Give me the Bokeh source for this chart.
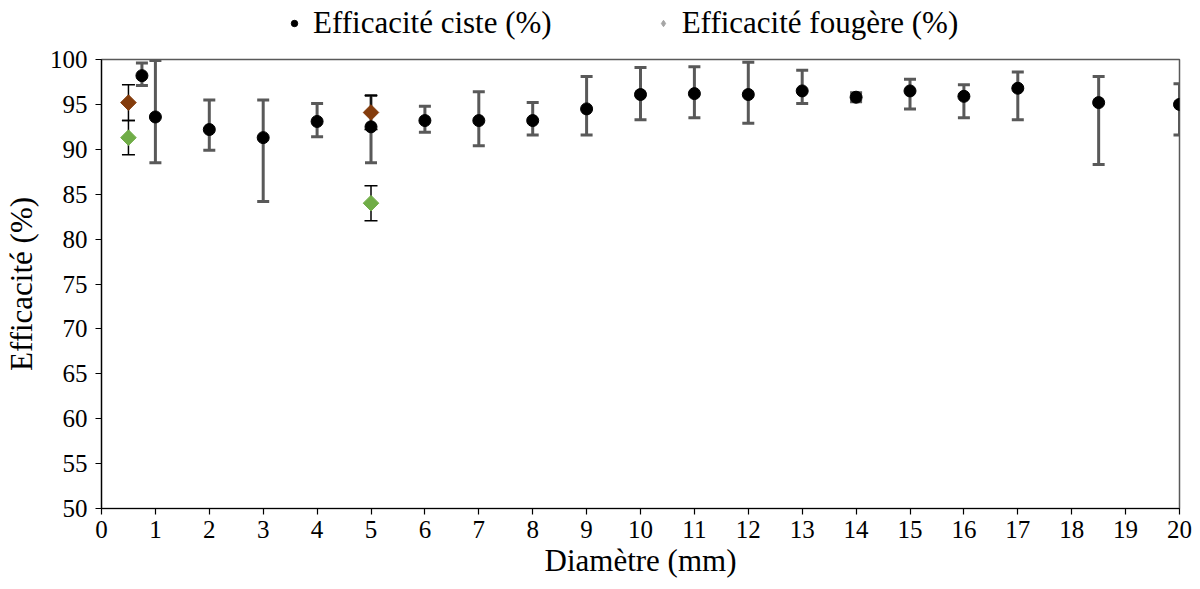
from bokeh.plotting import figure
from bokeh.layouts import column
from bokeh.models import (ColumnDataSource, Whisker, TeeHead, Legend, LegendItem,
                          FixedTicker, Range1d)
from bokeh.embed import file_html
from bokeh.resources import INLINE
import math

# ---- data ----
ciste_x = [0.75, 1, 2, 3, 4, 5, 6, 7, 8, 9, 10, 11, 12, 13, 14, 15, 16, 17, 18.5, 20]
ciste_y = [98.2, 93.6, 92.2, 91.3, 93.1, 92.5, 93.2, 93.2, 93.2, 94.5, 96.1, 96.2, 96.1, 96.5, 95.8, 96.5, 95.9, 96.8, 95.2, 95.0]
ciste_hi = [99.6, 99.9, 95.5, 95.5, 95.1, 96.0, 94.8, 96.4, 95.2, 98.1, 99.1, 99.2, 99.7, 98.8, 96.3, 97.8, 97.2, 98.6, 98.1, 97.3]
ciste_lo = [97.1, 88.5, 89.9, 84.2, 91.4, 88.5, 91.9, 90.4, 91.6, 91.6, 93.3, 93.5, 92.9, 95.1, 95.3, 94.5, 93.5, 93.3, 88.3, 91.6]

fougere_x = [0.5, 0.5, 5, 5]
fougere_y = [95.2, 91.3, 94.1, 84.0]
fougere_err = [2.0, 1.9, 1.9, 1.95]
fougere_colors = ["#843C0C", "#70AD47", "#843C0C", "#70AD47"]

x_ticks = list(range(0, 21))
y_ticks = list(range(50, 101, 5))

FONT = "Liberation Serif"
ROT = math.pi / 4

p = figure(width=1192, height=536, output_backend="svg", toolbar_location=None,
           x_range=Range1d(0, 20), y_range=Range1d(50, 100),
           min_border_left=97, min_border_right=13, min_border_top=14, min_border_bottom=73)
p.grid.visible = False
p.outline_line_color = "#595959"
p.outline_line_width = 1.5
p.background_fill_color = "white"
p.border_fill_color = "white"

for ax in (p.xaxis[0], p.yaxis[0]):
    ax.axis_line_color = "black"
    ax.axis_line_width = 1.2
    ax.major_tick_line_color = "black"
    ax.major_tick_line_width = 1.2
    ax.major_tick_out = 6
    ax.major_tick_in = 0
    ax.minor_tick_line_color = None
    ax.major_label_text_font = FONT
    ax.major_label_text_font_size = "25px"
    ax.major_label_text_color = "black"
    ax.axis_label_text_font = FONT
    ax.axis_label_text_font_size = "31px"
    ax.axis_label_text_font_style = "normal"
    ax.axis_label_text_color = "black"

p.xaxis.ticker = FixedTicker(ticks=x_ticks)
p.yaxis.ticker = FixedTicker(ticks=y_ticks)
p.xaxis.axis_label = "Diamètre (mm)"
p.yaxis.axis_label = "Efficacité (%)"
p.xaxis.major_label_standoff = 6
p.yaxis.major_label_standoff = 8
p.xaxis.axis_label_standoff = 2
p.yaxis.axis_label_standoff = 8

# ciste error bars
src_c = ColumnDataSource(dict(x=ciste_x, y=ciste_y, hi=ciste_hi, lo=ciste_lo))
w_c = Whisker(source=src_c, base="x", upper="hi", lower="lo",
              line_color="#595959", line_width=3,
              upper_head=TeeHead(size=12, line_color="#595959", line_width=3),
              lower_head=TeeHead(size=12, line_color="#595959", line_width=3))
p.add_layout(w_c)

# fougere error bars
f_hi = [v + e for v, e in zip(fougere_y, fougere_err)]
f_lo = [v - e for v, e in zip(fougere_y, fougere_err)]
src_f = ColumnDataSource(dict(x=fougere_x, y=fougere_y, hi=f_hi, lo=f_lo, c=fougere_colors))
w_f = Whisker(source=src_f, base="x", upper="hi", lower="lo",
              line_color="black", line_width=1.5,
              upper_head=TeeHead(size=13, line_color="black", line_width=1.5),
              lower_head=TeeHead(size=13, line_color="black", line_width=1.5))
p.add_layout(w_f)

p.scatter("x", "y", source=src_c, marker="circle", size=12, fill_color="black", line_color="black")
p.scatter("x", "y", source=src_f, marker="square", angle=ROT, size=11, fill_color="c", line_color="c")

# ---- legend strip on top ----
lf = figure(width=1192, height=45, output_backend="svg", toolbar_location=None,
            x_axis_type=None, y_axis_type=None, x_range=Range1d(0, 1), y_range=Range1d(0, 1),
            min_border=0)
lf.grid.visible = False
lf.outline_line_color = None
# proxy glyphs (placed outside the visible range, only used for the legend swatches)
r_leg_c = lf.scatter(x=[-5], y=[-5], marker="circle", size=8, fill_color="black", line_color="black")
r_leg_f = lf.scatter(x=[-5], y=[-5], marker="diamond", size=13,
                     fill_color="#A5A5A5", line_color="#A5A5A5")

legend = Legend(items=[LegendItem(label="Efficacité ciste (%)", renderers=[r_leg_c]),
                       LegendItem(label="Efficacité fougère (%)", renderers=[r_leg_f])],
                orientation="horizontal", location=(185, 4),
                label_text_font=FONT, label_text_font_size="31px", label_text_color="black",
                border_line_color=None, background_fill_alpha=0,
                glyph_width=16, label_standoff=11, spacing=103, padding=2, margin=0)
lf.add_layout(legend, "center")

open("out.html", "w").write(file_html(column(lf, p, spacing=0), INLINE))
